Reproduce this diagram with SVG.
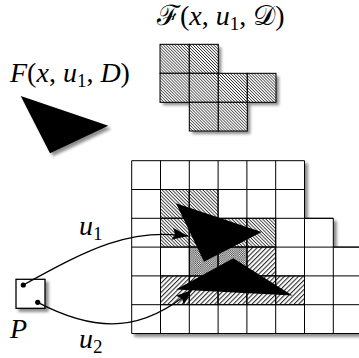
<svg xmlns="http://www.w3.org/2000/svg" width="359" height="358" viewBox="0 0 359 358">
<defs>
<style>
.lbl{font-family:"Liberation Serif","DejaVu Serif",serif;font-size:28px;fill:#000}
.it{font-style:italic}
.sub{font-size:19px}
.cell{stroke:#000;stroke-width:1}
.grid{fill:#fff;stroke:#000;stroke-width:1}
.conn{fill:none;stroke:#000;stroke-width:1.3}
</style>
<filter id="sh" x="-20%" y="-20%" width="150%" height="150%">
<feGaussianBlur in="SourceAlpha" stdDeviation="1.6"/>
<feOffset dx="2.5" dy="2.5" result="b"/>
<feComponentTransfer><feFuncA type="linear" slope="0.45"/></feComponentTransfer>
<feMerge><feMergeNode/><feMergeNode in="SourceGraphic"/></feMerge>
</filter>
<pattern id="nwS" patternUnits="userSpaceOnUse" width="2.1" height="2.1" patternTransform="rotate(45)">
<rect width="2.1" height="2.1" fill="#fff"/><line x1="0" y1="0.4" x2="2.1" y2="0.4" stroke="#000" stroke-width="0.6"/>
</pattern>
<pattern id="nwB" patternUnits="userSpaceOnUse" width="2.4" height="2.4" patternTransform="rotate(45)">
<rect width="2.4" height="2.4" fill="#fff"/><line x1="0" y1="0.5" x2="2.4" y2="0.5" stroke="#000" stroke-width="0.7"/>
</pattern>
<pattern id="neB" patternUnits="userSpaceOnUse" width="3.3" height="3.3" patternTransform="rotate(-45)">
<rect width="3.3" height="3.3" fill="#fff"/><line x1="0" y1="0.6" x2="3.3" y2="0.6" stroke="#000" stroke-width="0.9"/>
</pattern>
<pattern id="cross" patternUnits="userSpaceOnUse" width="2.2" height="2.2">
<rect width="2.2" height="2.2" fill="#fff"/><rect width="1.1" height="1.1" fill="#333"/><rect x="1.1" y="1.1" width="1.1" height="1.1" fill="#333"/>
</pattern>
<marker id="arr" markerUnits="userSpaceOnUse" markerWidth="20" markerHeight="16" refX="16" refY="6" orient="auto" viewBox="0 0 20 12">
<path d="M0,0 L16,6 L0,12 L3,6 Z" fill="#000"/>
</marker>
</defs>
<rect width="359" height="358" fill="#fff"/>

<g id="label-F">
<text class="lbl" x="10" y="82"><tspan class="it">F</tspan>(<tspan class="it">x</tspan>, <tspan class="it">u</tspan><tspan class="sub" dy="5">1</tspan><tspan dy="-5">, </tspan><tspan class="it">D</tspan>)</text>
</g>
<g id="triangle-F">
<polygon points="20.7,96 108.3,125.7 50,153.3" fill="#000" filter="url(#sh)"/>
</g>

<g id="label-setF">
<text class="lbl" x="157" y="25">ℱ(<tspan class="it">x</tspan>, <tspan class="it">u</tspan><tspan class="sub" dy="5">1</tspan><tspan dy="-5">, </tspan>𝒟)</text>
</g>
<g id="setF">
<g filter="url(#sh)">
<polygon points="160,44.3 218.3,44.3 218.3,73.3 276,73.3 276,102.3 247.3,102.3 247.3,131 189.3,131 189.3,102.3 160,102.3" fill="#000"/>
</g>
<g fill="url(#nwS)" class="cell">
<rect x="160" y="44.3" width="29.3" height="29"/>
<rect x="189.3" y="44.3" width="29" height="29"/>
<rect x="160" y="73.3" width="29.3" height="29"/>
<rect x="189.3" y="73.3" width="29" height="29"/>
<rect x="218.3" y="73.3" width="29" height="29"/>
<rect x="247.3" y="73.3" width="28.7" height="29"/>
<rect x="189.3" y="102.3" width="29" height="28.7"/>
<rect x="218.3" y="102.3" width="29" height="28.7"/>
</g>
</g>

<g id="grid">
<polygon class="grid" filter="url(#sh)" points="131.7,160.7 304.5,160.7 304.5,218.3 333.3,218.3 333.3,247.1 370,247.1 370,333.5 131.7,333.5"/>
<g class="cell" fill="url(#nwB)">
<rect x="160.5" y="189.5" width="28.8" height="28.8"/>
<rect x="189.3" y="189.5" width="28.8" height="28.8"/>
<rect x="160.5" y="218.3" width="28.8" height="28.8"/>
<rect x="189.3" y="218.3" width="28.8" height="28.8"/>
<rect x="218.1" y="218.3" width="28.8" height="28.8"/>
<rect x="246.9" y="218.3" width="28.8" height="28.8"/>
</g>
<g class="cell" fill="url(#neB)">
<rect x="246.9" y="247.1" width="28.8" height="28.8"/>
<rect x="160.5" y="275.9" width="28.8" height="28.8"/>
<rect x="189.3" y="275.9" width="28.8" height="28.8"/>
<rect x="218.1" y="275.9" width="28.8" height="28.8"/>
<rect x="246.9" y="275.9" width="28.8" height="28.8"/>
<rect x="275.7" y="275.9" width="28.8" height="28.8"/>
</g>
<g class="cell" fill="url(#cross)">
<rect x="189.3" y="247.1" width="28.8" height="28.8"/>
<rect x="218.1" y="247.1" width="28.8" height="28.8"/>
</g>
<g stroke="#000" stroke-width="1" fill="none">
<path d="M131.7,189.5H304.5M131.7,218.3H333.3M131.7,247.1H359M131.7,275.9H359M131.7,304.7H359"/>
<path d="M160.5,160.7V333.5M189.3,160.7V333.5M218.1,160.7V333.5M246.9,160.7V333.5M275.7,160.7V333.5M304.5,218.3V333.5M333.3,247.1V333.5"/>
</g>
<polygon points="176,203.3 261.7,232 204,261.7" fill="#000"/>
<polygon points="233.3,258.3 292.5,295.5 176,289.5" fill="#000"/>
</g>

<g id="P">
<rect x="16" y="279.3" width="29" height="29" fill="#fff" stroke="#000" stroke-width="1.3" filter="url(#sh)"/>
<circle cx="23.3" cy="285" r="2.6" fill="#000"/>
<circle cx="37.7" cy="302.3" r="2.6" fill="#000"/>
<text class="lbl it" x="10" y="338">P</text>
</g>

<g id="connectors">
<path class="conn" d="M23.3,285 C90,248 130,228 188,236" marker-end="url(#arr)"/>
<path class="conn" d="M37.7,302.3 C100,335 145,330 192,290" marker-end="url(#arr)"/>
<text class="lbl" x="79" y="235"><tspan class="it">u</tspan><tspan class="sub" dy="5">1</tspan></text>
<text class="lbl" x="79" y="348"><tspan class="it">u</tspan><tspan class="sub" dy="5">2</tspan></text>
</g>
</svg>
